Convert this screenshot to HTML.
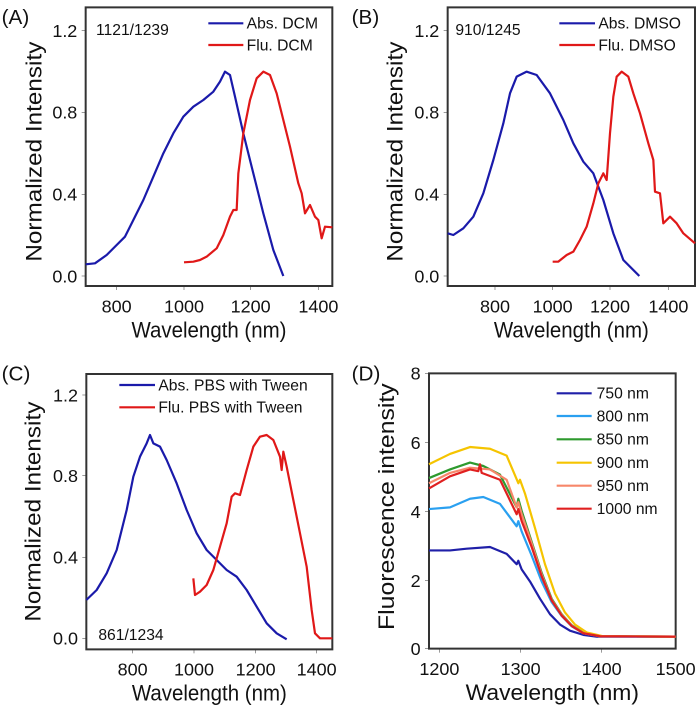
<!DOCTYPE html>
<html><head><meta charset="utf-8"><style>
html,body{margin:0;padding:0;background:#fff;}
svg{display:block;}
text{font-family:"Liberation Sans",Arial,sans-serif;fill:#111;}
.tk{font-size:54px;}
.ax{font-size:66px;}
.lg{font-size:47px;}
.pl{font-size:62px;}
.fr{fill:none;stroke:#333;stroke-width:2;vector-effect:non-scaling-stroke;}
.t{stroke:#333;stroke-width:1.5;vector-effect:non-scaling-stroke;}
.c{fill:none;stroke-width:2.2;vector-effect:non-scaling-stroke;stroke-linejoin:round;}
.b{stroke:#1a1aaa;}
.r{stroke:#e01818;}
</style></head><body>
<svg width="700" height="709" viewBox="0 0 700 709" xmlns="http://www.w3.org/2000/svg">
<!-- Panel A -->
<g transform="scale(0.33333)">
<text class="pl" x="5" y="72">(A)</text>
<rect class="fr" x="257" y="22" width="740" height="836"/>
<g class="t">
<line x1="245" y1="92" x2="257" y2="92"/><line x1="245" y1="337" x2="257" y2="337"/><line x1="245" y1="583" x2="257" y2="583"/><line x1="245" y1="828" x2="257" y2="828"/>
<line x1="350" y1="858" x2="350" y2="870"/><line x1="552" y1="858" x2="552" y2="870"/><line x1="752" y1="858" x2="752" y2="870"/><line x1="955" y1="858" x2="955" y2="870"/>
</g>
<g class="tk" text-anchor="end"><text x="232" y="111">1.2</text><text x="232" y="356">0.8</text><text x="232" y="602">0.4</text><text x="232" y="847">0.0</text></g>
<g class="tk" text-anchor="middle"><text x="350" y="937">800</text><text x="552" y="937">1000</text><text x="752" y="937">1200</text><text x="955" y="937">1400</text></g>
<text class="ax" text-anchor="middle" x="627" y="1012" textLength="465" lengthAdjust="spacingAndGlyphs">Wavelength (nm)</text>
<text class="ax" text-anchor="middle" transform="translate(124,455) rotate(-90)" textLength="660" lengthAdjust="spacingAndGlyphs">Normalized Intensity</text>
<text class="lg" x="288" y="105">1121/1239</text>
<line class="c b" x1="625" y1="70" x2="730" y2="70"/><text class="lg" x="740" y="86">Abs. DCM</text>
<line class="c r" x1="625" y1="135" x2="730" y2="135"/><text class="lg" x="740" y="151">Flu. DCM</text>
<polyline class="c b" points="257,793 285,790 320,765 350,735 375,710 400,660 430,600 460,530 490,460 520,400 550,350 580,320 610,300 640,275 660,245 675,215 690,225 705,290 730,400 760,520 790,640 820,750 850,828"/>
<polyline class="c r" points="552,787 580,785 600,780 620,770 650,745 670,705 690,650 700,630 710,630 715,520 730,400 750,300 770,235 790,215 810,225 830,280 850,360 870,440 895,550 905,580 915,640 930,615 945,650 955,660 965,715 975,680 997,682"/>
</g>
<!-- Panel B -->
<g transform="translate(350,0) scale(0.33333)">
<text class="pl" x="5" y="72">(B)</text>
<rect class="fr" x="293" y="22" width="742" height="836"/>
<g class="t">
<line x1="281" y1="92" x2="293" y2="92"/><line x1="281" y1="337" x2="293" y2="337"/><line x1="281" y1="583" x2="293" y2="583"/><line x1="281" y1="828" x2="293" y2="828"/>
<line x1="435" y1="858" x2="435" y2="870"/><line x1="608" y1="858" x2="608" y2="870"/><line x1="780" y1="858" x2="780" y2="870"/><line x1="955" y1="858" x2="955" y2="870"/>
</g>
<g class="tk" text-anchor="end"><text x="268" y="111">1.2</text><text x="268" y="356">0.8</text><text x="268" y="602">0.4</text><text x="268" y="847">0.0</text></g>
<g class="tk" text-anchor="middle"><text x="435" y="937">800</text><text x="608" y="937">1000</text><text x="780" y="937">1200</text><text x="955" y="937">1400</text></g>
<text class="ax" text-anchor="middle" x="664" y="1012" textLength="465" lengthAdjust="spacingAndGlyphs">Wavelength (nm)</text>
<text class="ax" text-anchor="middle" transform="translate(157,455) rotate(-90)" textLength="660" lengthAdjust="spacingAndGlyphs">Normalized Intensity</text>
<text class="lg" x="316" y="105">910/1245</text>
<line class="c b" x1="628" y1="70" x2="735" y2="70"/><text class="lg" x="745" y="86">Abs. DMSO</text>
<line class="c r" x1="628" y1="135" x2="735" y2="135"/><text class="lg" x="745" y="151">Flu. DMSO</text>
<polyline class="c b" points="293,700 310,705 340,685 370,650 400,580 430,480 460,370 480,280 500,230 530,215 560,225 600,280 640,360 670,430 700,485 730,520 760,600 790,700 820,780 868,828"/>
<polyline class="c r" points="608,785 625,785 650,765 670,755 690,720 710,680 730,610 745,550 760,520 770,540 780,400 790,290 800,230 815,215 835,230 850,280 870,340 895,430 910,480 915,575 930,580 940,670 960,650 980,670 1000,700 1035,730"/>
</g>
<!-- Panel C -->
<g transform="translate(0,360) scale(0.33333)">
<text class="pl" x="5" y="62">(C)</text>
<rect class="fr" x="259" y="42" width="738" height="826"/>
<g class="t">
<line x1="247" y1="105" x2="259" y2="105"/><line x1="247" y1="347" x2="259" y2="347"/><line x1="247" y1="592" x2="259" y2="592"/><line x1="247" y1="835" x2="259" y2="835"/>
<line x1="398" y1="868" x2="398" y2="880"/><line x1="582" y1="868" x2="582" y2="880"/><line x1="767" y1="868" x2="767" y2="880"/><line x1="950" y1="868" x2="950" y2="880"/>
</g>
<g class="tk" text-anchor="end"><text x="234" y="124">1.2</text><text x="234" y="366">0.8</text><text x="234" y="611">0.4</text><text x="234" y="854">0.0</text></g>
<g class="tk" text-anchor="middle"><text x="398" y="947">800</text><text x="582" y="947">1000</text><text x="767" y="947">1200</text><text x="950" y="947">1400</text></g>
<text class="ax" text-anchor="middle" x="628" y="1022" textLength="465" lengthAdjust="spacingAndGlyphs">Wavelength (nm)</text>
<text class="ax" text-anchor="middle" transform="translate(122,455) rotate(-90)" textLength="660" lengthAdjust="spacingAndGlyphs">Normalized Intensity</text>
<text class="lg" x="295" y="840">861/1234</text>
<line class="c b" x1="358" y1="75" x2="465" y2="75"/><text class="lg" x="475" y="91">Abs. PBS with Tween</text>
<line class="c r" x1="358" y1="142" x2="465" y2="142"/><text class="lg" x="475" y="158">Flu. PBS with Tween</text>
<polyline class="c b" points="259,720 290,690 320,640 350,570 380,450 400,350 420,290 440,250 450,225 460,250 480,260 500,300 530,370 560,450 590,520 620,570 650,600 680,630 710,650 740,690 770,740 800,790 830,820 860,838"/>
<polyline class="c r" points="580,655 585,705 600,695 620,675 640,630 660,560 680,490 695,410 705,400 720,405 740,330 760,260 780,230 800,225 820,240 840,290 845,330 850,275 860,320 880,420 900,520 920,620 935,750 945,820 960,835 997,835"/>
</g>
<!-- Panel D -->
<g transform="translate(350,360) scale(0.33333)">
<text class="pl" x="5" y="62">(D)</text>
<rect class="fr" x="237" y="40" width="740" height="826"/>
<g class="t">
<line x1="225" y1="40" x2="237" y2="40"/><line x1="225" y1="248" x2="237" y2="248"/><line x1="225" y1="455" x2="237" y2="455"/><line x1="225" y1="662" x2="237" y2="662"/><line x1="225" y1="866" x2="237" y2="866"/>
<line x1="268" y1="866" x2="268" y2="878"/><line x1="512" y1="866" x2="512" y2="878"/><line x1="755" y1="866" x2="755" y2="878"/>
</g>
<g class="tk" text-anchor="end"><text x="212" y="59">8</text><text x="212" y="267">6</text><text x="212" y="474">4</text><text x="212" y="681">2</text><text x="212" y="885">0</text></g>
<g class="tk" text-anchor="middle"><text x="268" y="945">1200</text><text x="512" y="945">1300</text><text x="755" y="945">1400</text><text x="977" y="945">1500</text></g>
<text class="ax" text-anchor="middle" x="607" y="1020" textLength="520" lengthAdjust="spacingAndGlyphs">Wavelength (nm)</text>
<text class="ax" text-anchor="middle" transform="translate(132,440) rotate(-90)" textLength="740" lengthAdjust="spacingAndGlyphs">Fluorescence intensity</text>
<line class="c" stroke="#1f1fa8" x1="620" y1="100" x2="725" y2="100"/><text class="lg" x="740" y="116">750 nm</text>
<line class="c" stroke="#2aa0f0" x1="620" y1="168" x2="725" y2="168"/><text class="lg" x="740" y="184">800 nm</text>
<line class="c" stroke="#2e9a2e" x1="620" y1="238" x2="725" y2="238"/><text class="lg" x="740" y="254">850 nm</text>
<line class="c" stroke="#f5c400" x1="620" y1="308" x2="725" y2="308"/><text class="lg" x="740" y="324">900 nm</text>
<line class="c" stroke="#f7876a" x1="620" y1="377" x2="725" y2="377"/><text class="lg" x="740" y="393">950 nm</text>
<line class="c" stroke="#e02020" x1="620" y1="446" x2="725" y2="446"/><text class="lg" x="740" y="462">1000 nm</text>
<g id="dcurves"></g>
</g>
</svg>
<script>
(function(){
var Y=function(v){return 866-v*103.4;};
var data=[
["#1f1fa8",[[237,2.85],[300,2.85],[350,2.9],[420,2.95],[470,2.75],[500,2.45],[505,2.55],[515,2.3],[540,1.95],[570,1.45],[600,1.0],[630,0.7],[660,0.52],[700,0.4],[740,0.35],[977,0.35]]],
["#2aa0f0",[[237,4.05],[300,4.1],[360,4.35],[400,4.4],[450,4.2],[500,3.55],[505,3.7],[515,3.4],[545,2.7],[575,1.95],[605,1.35],[635,0.95],[665,0.65],[700,0.45],[750,0.36],[977,0.35]]],
["#2e9a2e",[[237,4.95],[300,5.2],[360,5.4],[400,5.3],[450,5.05],[500,4.1],[505,4.35],[515,4.0],[545,3.1],[575,2.2],[605,1.45],[635,1.0],[665,0.68],[700,0.46],[750,0.36],[977,0.35]]],
["#f5c400",[[237,5.35],[300,5.65],[360,5.85],[420,5.8],[470,5.6],[505,4.8],[510,4.9],[525,4.5],[555,3.5],[585,2.45],[615,1.6],[645,1.05],[675,0.7],[710,0.47],[760,0.36],[977,0.35]]],
["#f7876a",[[237,4.8],[300,5.1],[360,5.25],[420,5.2],[470,4.9],[500,4.1],[505,4.25],[515,3.9],[545,3.05],[575,2.15],[605,1.42],[635,0.98],[665,0.67],[700,0.45],[750,0.36],[977,0.35]]],
["#e02020",[[237,4.65],[300,5.0],[360,5.2],[385,5.15],[390,5.35],[395,5.1],[450,4.9],[500,3.9],[505,4.05],[515,3.7],[545,2.95],[575,2.1],[605,1.4],[635,0.96],[665,0.66],[700,0.45],[750,0.36],[977,0.35]]]
];
var g=document.getElementById('dcurves'),ns="http://www.w3.org/2000/svg";
data.forEach(function(d){
  var p=d[1].map(function(q){return q[0]+","+Y(q[1]).toFixed(1);}).join(" ");
  var e=document.createElementNS(ns,"polyline");
  e.setAttribute("points",p);e.setAttribute("class","c");e.setAttribute("stroke",d[0]);
  g.appendChild(e);
});
})();
</script>
</body></html>
